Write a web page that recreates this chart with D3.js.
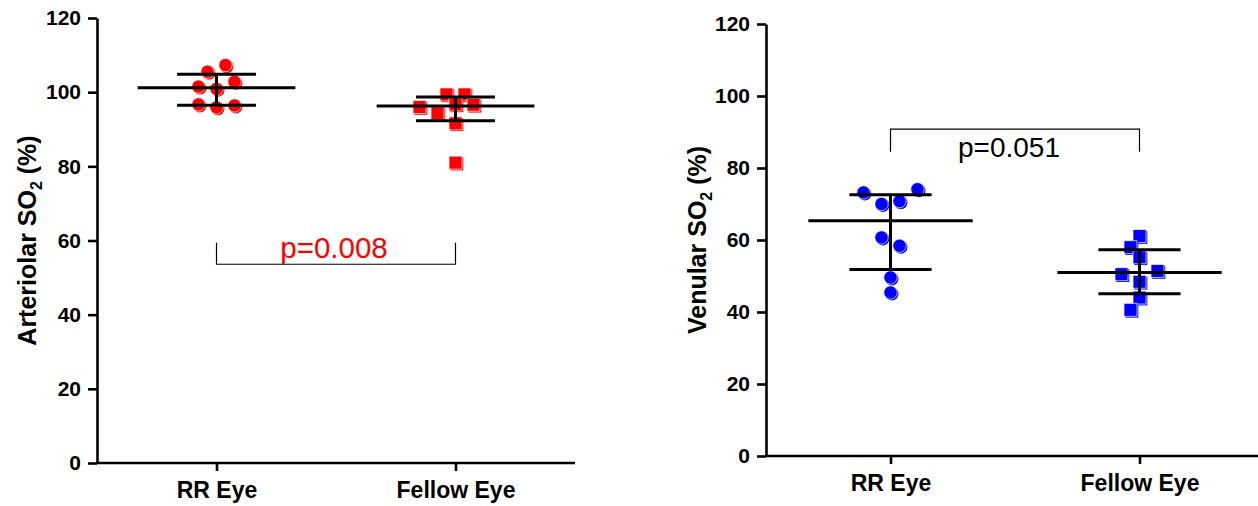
<!DOCTYPE html>
<html>
<head>
<meta charset="utf-8">
<script src="https://cdn.jsdelivr.net/npm/d3@7"></script>
<style>
  html, body { margin: 0; padding: 0; background: #ffffff; }
  svg { display: block; }
  text { font-family: "Liberation Sans", Arial, sans-serif; }
</style>
</head>
<body>
<svg id="chart" width="1258" height="506"></svg>
<script>
// ---- data -------------------------------------------------------------
const categories = ["RR Eye", "Fellow Eye"];
const yTicks = [0, 20, 40, 60, 80, 100, 120];

// Arteriolar oxygen saturation, % (one value per eye)
const arteriolarRR     = [105.5, 107.3, 101.5, 100.9, 102.8, 96.7, 95.9, 96.4];
const arteriolarFellow = [99.4, 99.4, 96.0, 94.3, 96.7, 96.6, 91.6, 81.0];

// Venular oxygen saturation, %
const venularRR     = [73.2, 70.0, 70.8, 74.1, 60.7, 58.4, 49.6, 45.4];
const venularFellow = [61.1, 58.0, 55.2, 50.5, 48.4, 51.4, 44.0, 40.6];

const pArteriolar = "p=0.008";
const pVenular    = "p=0.051";

// ---- helpers -----------------------------------------------------------
// Quartile using the (n + 1) percentile definition
function quartile(values, p) {
  const s = values.slice().sort(d3.ascending);
  const n = s.length, pos = p * (n + 1);
  if (pos <= 1) return s[0];
  if (pos >= n) return s[n - 1];
  const lo = Math.floor(pos), f = pos - lo;
  return s[lo - 1] + f * (s[lo] - s[lo - 1]);
}

// Row-based scatter layout: points whose pixel heights chain together
// form a row, spread side by side (in data order, left to right) and
// centred; a row slides sideways by half-slots if it would overlap
// a point already placed.
function swarm(values, y, slot, minDist, rowGap) {
  const pts = values.map((v, i) => ({ v, i, y: y(v), dx: 0 }));
  const rows = [];
  pts.slice().sort((a, b) => a.y - b.y).forEach(p => {
    const last = rows[rows.length - 1];
    if (last && p.y - last[last.length - 1].y < rowGap) last.push(p);
    else rows.push([p]);
  });
  const placed = [];
  const shifts = [0];
  for (let k = 1; k < 12; k++) shifts.push(-k * slot, k * slot);
  rows.forEach(row => {
    row.sort((a, b) => a.i - b.i);
    const n = row.length;
    const base = row.map((p, k) => (k - (n - 1) / 2) * 2 * slot);
    const s = shifts.find(sh => row.every((p, k) =>
      placed.every(q => Math.hypot(q.dx - (base[k] + sh), q.y - p.y) >= minDist)));
    row.forEach((p, k) => { p.dx = base[k] + (s || 0); placed.push(p); });
  });
  return pts;
}

const svg = d3.select("#chart");

function panel(cfg) {
  const g = svg.append("g");
  const x = d3.scalePoint().domain(categories).range(cfg.xRange).padding(0.5);
  const y = d3.scaleLinear().domain([0, 120]).range(cfg.yRange);
  const step = x.step();

  // y axis
  const ya = g.append("g")
    .attr("transform", `translate(${cfg.xRange[0]},0)`)
    .call(d3.axisLeft(y).tickValues(yTicks).tickSize(9).tickSizeOuter(0).tickPadding(7));
  // x axis
  const xa = g.append("g")
    .attr("transform", `translate(0,${cfg.yRange[0]})`)
    .call(d3.axisBottom(x).tickSize(8).tickSizeOuter(0).tickPadding(11));
  [ya, xa].forEach(a => {
    a.select(".domain").attr("stroke", "#000").attr("stroke-width", 2.6);
    a.selectAll(".tick line").attr("stroke", "#000").attr("stroke-width", 2.6);
  });
  ya.selectAll(".tick text").attr("fill", "#000")
    .style("font-size", "21px").style("font-weight", "bold");
  xa.selectAll(".tick text").attr("fill", "#000")
    .style("font-size", "23px").style("font-weight", "bold");
  xa.select(".domain").attr("d", `M${cfg.xRange[0]},0H${cfg.xRange[1]}`);

  // y axis title with subscript
  const title = g.append("text")
    .attr("transform", `translate(${cfg.titleX},${(cfg.yRange[0] + cfg.yRange[1]) / 2}) rotate(-90)`)
    .attr("text-anchor", "middle")
    .style("font-size", "25px").style("font-weight", "bold").attr("fill", "#000");
  title.append("tspan").text(cfg.title + " SO");
  title.append("tspan").text("2").style("font-size", "16px").attr("dy", 6);
  title.append("tspan").text(" (%)").attr("dy", -6);

  // points + median / interquartile range for each group
  cfg.groups.forEach((vals, gi) => {
    const cx = x(categories[gi]);
    const pts = swarm(vals, y, 9, 12.5, 9);
    const shape = cfg.shapes[gi];
    const sym = d3.symbol().type(shape === "circle" ? d3.symbolCircle : d3.symbolSquare)
      .size(shape === "circle" ? Math.PI * 6.7 * 6.7 : 13 * 13);
    const pg = g.append("g");
    pts.forEach(p => {
      pg.append("path").attr("d", sym())
        .attr("transform", `translate(${cx + p.dx + 1.3},${p.y + 1.3})`)
        .attr("fill", cfg.color);
      pg.append("path").attr("d", sym())
        .attr("transform", `translate(${cx + p.dx},${p.y})`)
        .attr("fill", cfg.color).attr("stroke", "#fff").attr("stroke-width", 0.7);
    });

    const med = d3.median(vals), q1 = quartile(vals, 0.25), q3 = quartile(vals, 0.75);
    const wMed = step * 0.33, wCap = step * 0.165;
    const lg = g.append("g").attr("stroke", "#000").attr("stroke-width", 3);
    lg.append("line").attr("x1", cx - wMed).attr("x2", cx + wMed).attr("y1", y(med)).attr("y2", y(med));
    lg.append("line").attr("x1", cx - wCap).attr("x2", cx + wCap).attr("y1", y(q1)).attr("y2", y(q1));
    lg.append("line").attr("x1", cx - wCap).attr("x2", cx + wCap).attr("y1", y(q3)).attr("y2", y(q3));
    lg.append("line").attr("x1", cx).attr("x2", cx).attr("y1", y(q1)).attr("y2", y(q3));
  });

  // significance bracket
  const b = cfg.bracket;
  const x0 = x(categories[0]), x1 = x(categories[1]);
  g.append("path")
    .attr("d", `M${x0},${y(b.leg)}V${y(b.bar)}H${x1}V${y(b.leg)}`)
    .attr("fill", "none").attr("stroke", "#000").attr("stroke-width", 1.2);
  g.append("text")
    .attr("x", (x0 + x1) / 2 + b.shift).attr("y", y(b.bar) + b.textOffset)
    .attr("text-anchor", "middle").attr("fill", b.color)
    .style("font-size", b.size + "px").text(b.label);
}

panel({
  xRange: [97, 575], yRange: [463, 18], titleX: 36,
  title: "Arteriolar", color: "#ff0000", shapes: ["circle", "square"],
  groups: [arteriolarRR, arteriolarFellow],
  bracket: { bar: 53.6, leg: 59.4, label: pArteriolar, color: "#ff0000", textOffset: -6, shift: -2, size: 29.5 }
});

panel({
  xRange: [766, 1264], yRange: [456, 24], titleX: 706,
  title: "Venular", color: "#0000ff", shapes: ["circle", "square"],
  groups: [venularRR, venularFellow],
  bracket: { bar: 90.8, leg: 84.5, label: pVenular, color: "#000000", textOffset: 28, shift: -6, size: 28 }
});
</script>
</body>
</html>
